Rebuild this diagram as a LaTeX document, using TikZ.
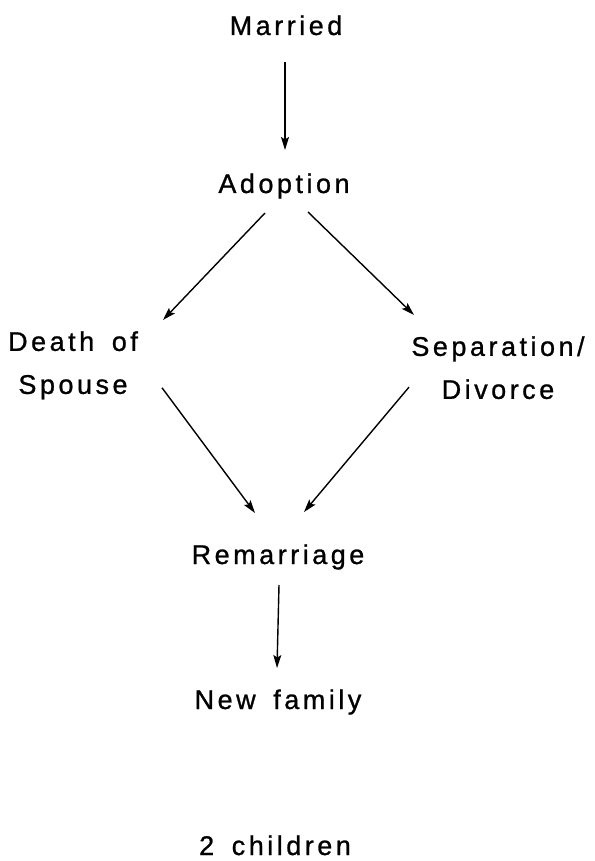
\documentclass[tikz,border=0pt]{standalone}
\usepackage{fontspec}
\setmainfont{Liberation Sans}[LetterSpace=13, FakeBold=0.9, WordSpace=1.6]
\usetikzlibrary{arrows.meta}

\begin{document}
\begin{tikzpicture}[x=1pt, y=-1pt,
  label/.style={inner sep=0pt, outer sep=0pt, font=\fontsize{27}{43}\selectfont},
  oneline/.style={label, text height=19.5pt, text depth=6pt, anchor=base},
  twoline/.style={label, align=center, anchor=north},
  arr/.style={line width=1.4pt, -{Stealth[length=13pt, width=8pt, inset=2.5pt]}}]

  % page frame
  \useasboundingbox (0,0) rectangle (594,861);

  % states
  \node[oneline] (married)  at (286,35)  {Married};
  \node[oneline] (adoption) at (284,193) {Adoption};
  \node[twoline] (death)    at (73,331.3)  {Death of\\Spouse};
  \node[twoline] (sep)      at (498,336.3) {Separation/\\Divorce};
  \node[oneline] (remar)    at (278,564) {Remarriage};
  \node[oneline] (newfam)   at (278,709) {New family};
  \node[oneline] (kids)     at (275,855) {2 children};

  % transitions
  \draw[arr] ([shift={(-1,21)}]married.south) -- ([shift={(1,-23.5)}]adoption.north);
  \draw[arr] ([shift={(-19,14)}]adoption.south) -- ([shift={(90,-11.3)}]death.north);
  \draw[arr] ([shift={(24,13)}]adoption.south) -- ([shift={(-84,-21.3)}]sep.north);
  \draw[arr] ([shift={(89,-11.7)}]death.south) -- ([shift={(-23,-31.5)}]remar.north);
  \draw[arr] ([shift={(-89,-12)}]sep.south) -- ([shift={(26,-32.5)}]remar.north);
  \draw[arr] ([shift={(1,15)}]remar.south) -- ([shift={(-1,-21.5)}]newfam.north);
\end{tikzpicture}
\end{document}
